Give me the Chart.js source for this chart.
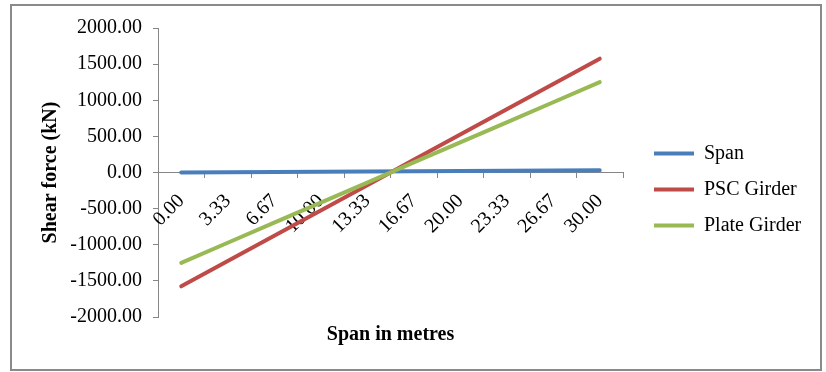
<!DOCTYPE html>
<html>
<head>
<meta charset="utf-8">
<script src="https://cdn.jsdelivr.net/npm/chart.js@4/dist/chart.umd.min.js"></script>
<style>
  html, body { margin: 0; padding: 0; background: #fff; }
  #wrap { position: relative; width: 826px; height: 372px; }
  #wrap canvas { position: absolute; left: 0; top: 0; }
  #frame { position: absolute; left: 10px; top: 4px; width: 808px; height: 363px;
           border: 2px solid #8a8a8a; pointer-events: none; }
</style>
</head>
<body>
<div id="wrap">
  <canvas id="chart" width="826" height="372"></canvas>
  <div id="frame"></div>
</div>
<script>
// Positions along the span (m) and the shear force at each point (kN)
const spanLabels = ['0.00', '3.33', '6.67', '10.00', '13.33', '16.67', '20.00', '23.33', '26.67', '30.00'];
const spanValues = [0, 3.33, 6.67, 10.0, 13.33, 16.67, 20.0, 23.33, 26.67, 30.0];
const pscGirder = [-1575, -1225, -875, -525, -175, 175, 525, 875, 1225, 1575];
const plateGirder = [-1250, -972, -694, -417, -139, 139, 417, 694, 972, 1250];

// Shear force axis range
const yMin = -2000;
const yMax = 2000;
const yStep = 500;

const SERIF = '"Liberation Serif", "Times New Roman", serif';
const AXIS_GREY = '#868686';

// Legend sits in a fixed-width column to the right of the plot
const LEGEND_W = 203;
const LEGEND_DX = 15;
const LEGEND_DY = 2;

const legendPlacement = {
  id: 'legendPlacement',
  beforeLayout(chart) {
    const lg = chart.legend;
    if (lg && !lg.__fixedWidth) {
      const fit = lg.fit;
      lg.fit = function () { fit.call(this); this.width = LEGEND_W; };
      lg.__fixedWidth = true;
    }
  },
  afterLayout(chart) {
    const lg = chart.legend;
    if (!lg) return;
    lg.left += LEGEND_DX; lg.right += LEGEND_DX;
    lg.top += LEGEND_DY; lg.bottom += LEGEND_DY;
  }
};

new Chart(document.getElementById('chart'), {
  type: 'line',
  data: {
    labels: spanLabels,
    datasets: [
      { label: 'Span', data: spanValues, borderColor: '#4A7EBB', backgroundColor: '#4A7EBB', order: 2 },
      { label: 'PSC Girder', data: pscGirder, borderColor: '#BE4B48', backgroundColor: '#BE4B48', order: 1 },
      { label: 'Plate Girder', data: plateGirder, borderColor: '#98B954', backgroundColor: '#98B954', order: 0 }
    ]
  },
  options: {
    responsive: false,
    animation: false,
    devicePixelRatio: 1,
    elements: {
      line: { borderWidth: 4, tension: 0, borderCapStyle: 'round' },
      point: { radius: 0, hoverRadius: 0 }
    },
    layout: { padding: { left: 11, top: 28, right: 0, bottom: 25 } },
    scales: {
      y: {
        min: yMin, max: yMax,
        afterFit(scale) { scale.width = 147; },
        ticks: {
          stepSize: yStep,
          padding: 11,
          color: '#000',
          font: { family: SERIF, size: 20 },
          callback: (v) => Number(v).toFixed(2)
        },
        grid: { drawOnChartArea: false, tickLength: 5, color: AXIS_GREY },
        border: { color: AXIS_GREY, width: 1 },
        title: {
          display: true, text: 'Shear force (kN)', color: '#000',
          font: { family: SERIF, size: 20, weight: 'bold' },
          padding: { top: 28, bottom: 0 }
        }
      },
      x: {
        type: 'category',
        position: { y: 0 },
        offset: true,
        ticks: {
          autoSkip: false, minRotation: 45, maxRotation: 45, padding: 12,
          color: '#000', font: { family: SERIF, size: 20 }
        },
        grid: { offset: true, drawOnChartArea: false, tickLength: 5, color: AXIS_GREY },
        border: { color: AXIS_GREY, width: 1 }
      },
      x2: {
        type: 'category',
        labels: spanLabels,
        position: 'bottom',
        afterFit(scale) { scale.height = 30; },
        grid: { display: false },
        border: { display: false },
        ticks: { display: false },
        title: {
          display: true, text: 'Span in metres', color: '#000',
          font: { family: SERIF, size: 20, weight: 'bold' },
          padding: { top: 4, bottom: 0 }
        }
      }
    },
    plugins: {
      tooltip: { enabled: false },
      legend: {
        position: 'right',
        labels: {
          boxWidth: 40, boxHeight: 4, padding: 16,
          color: '#000', font: { family: SERIF, size: 20 },
          sort: (a, b) => a.datasetIndex - b.datasetIndex,
          generateLabels: (chart) =>
            Chart.defaults.plugins.legend.labels.generateLabels(chart)
              .map(item => Object.assign(item, { lineWidth: 0 }))
        }
      }
    }
  },
  plugins: [legendPlacement]
});
</script>
</body>
</html>
